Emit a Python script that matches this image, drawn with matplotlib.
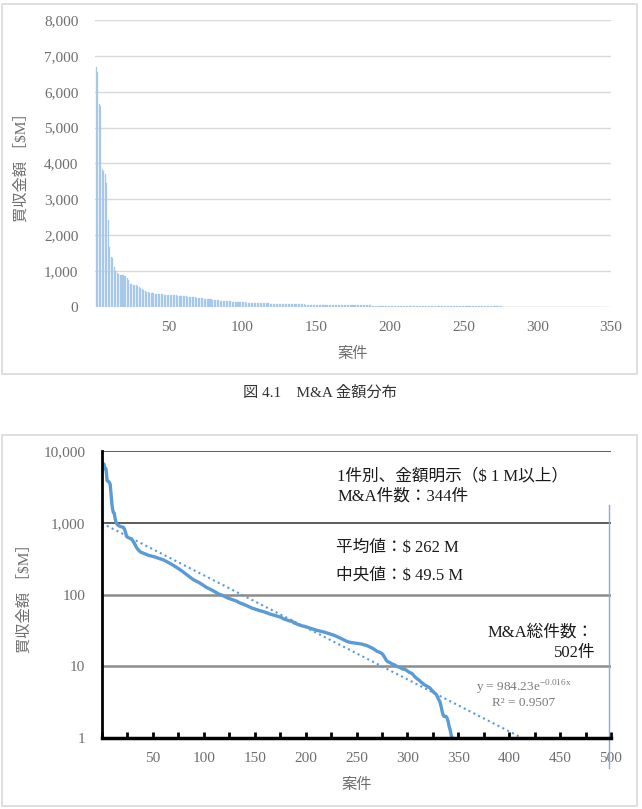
"""
M&A amount distribution: bar chart of deal values (top) and the same
sorted values on a log scale with an exponential trend line (bottom).
Saves out.png (642x809 px).
"""
import numpy as np
import matplotlib
matplotlib.use("Agg")
import matplotlib.pyplot as plt
from matplotlib.patches import Rectangle
from matplotlib.ticker import FuncFormatter, MultipleLocator

plt.rcParams["font.family"] = ["Liberation Serif", "Noto Sans CJK JP"]
plt.rcParams["mathtext.fontset"] = "custom"
plt.rcParams["mathtext.rm"] = "Liberation Serif"

# --- Data: deal values [$M], sorted descending (344 deals >= $1M) ---
deal_values = [
    6700, 6550, 5650, 5600, 3850, 3780, 3700, 3450, 2420, 1680,
    1400, 1360, 1120, 1000, 940, 920, 900, 890, 880, 870,
    860, 820, 750, 650, 630, 620, 610, 600, 590, 570,
    540, 510, 480, 450, 430, 415, 400, 390, 385, 380,
    375, 370, 365, 360, 355, 350, 348, 345, 342, 340,
    335, 332, 330, 325, 322, 318, 315, 312, 310, 305,
    300, 295, 290, 285, 280, 275, 270, 265, 260, 255,
    250, 245, 240, 235, 230, 225, 220, 215, 210, 205,
    200, 195, 190, 185, 180, 176, 172, 168, 164, 160,
    158, 155, 152, 150, 148, 145, 142, 139, 136, 133,
    130, 127, 125, 123, 121, 119, 117, 115, 113, 111,
    109, 107, 105, 103, 101, 100, 99, 98, 96, 95,
    93, 92, 90, 89, 88, 87, 86, 85, 84, 83,
    82, 81, 80, 78, 77, 76, 75, 74, 73, 72,
    71, 70, 69, 68, 67, 66, 65, 64, 63.5, 63,
    62, 61.5, 61, 60, 59.5, 59, 58.5, 58, 57.5, 57,
    56, 55.5, 55, 54, 53.5, 53, 52.5, 52, 51.5, 51,
    50.5, 50, 49.5, 49, 48.5, 48, 47, 46, 45.5, 45,
    44.5, 44, 43.5, 43, 42.8, 42.5, 42, 41, 40, 39.5,
    39, 38.5, 38, 37.5, 37, 36.7, 36.4, 36.2, 36, 35.6,
    35.2, 34.8, 34.4, 34, 33.6, 33.2, 32.9, 32.6, 32.3, 32,
    31.7, 31.4, 31.1, 30.9, 30.7, 30.5, 30.3, 30, 29.7, 29.4,
    29.1, 28.8, 28.5, 28.2, 27.9, 27.6, 27.3, 27, 26.7, 26.3,
    25.9, 25.5, 25.1, 24.7, 24.3, 23.9, 23.5, 23.1, 22.7, 22.4,
    22.1, 21.9, 21.7, 21.5, 21.4, 21.3, 21.2, 21.1, 21, 20.9,
    20.8, 20.7, 20.6, 20.5, 20.4, 20.2, 20, 19.8, 19.6, 19.5,
    19.2, 18.9, 18.6, 18.3, 18, 17.7, 17.4, 17, 16.6, 16.2,
    16, 15.8, 15.6, 15.3, 15, 14.5, 13.8, 13, 12.3, 11.8,
    11.5, 11.4, 11.2, 11, 10.8, 10.6, 10.5, 10.3, 10.1, 9.9,
    9.8, 9.7, 9.6, 9.4, 9.2, 9.1, 9.1, 9.0, 8.8, 8.6,
    8.4, 8.2, 8.1, 8.0, 7.8, 7.5, 7.2, 7.0, 6.8, 6.6,
    6.5, 6.3, 6.1, 5.9, 5.8, 5.6, 5.5, 5.4, 5.3, 5.2,
    5.1, 5.0, 4.8, 4.6, 4.5, 4.3, 4.2, 4.1, 3.9, 3.6,
    3.4, 3.2, 2.8, 2.4, 2.1, 2.0, 2.0, 2.0, 1.9, 1.7,
    1.45, 1.3, 1.1, 1.0,
]
deal_index = np.arange(1, len(deal_values) + 1)

# trend line (y = a * exp(b x))
trend_a = 984.23
trend_b = -0.0167
total_deals = 502

top_yticks = [0, 1000, 2000, 3000, 4000, 5000, 6000, 7000, 8000]
top_xticks = [50, 100, 150, 200, 250, 300, 350]
bottom_yticks = [1, 10, 100, 1000, 10000]
bottom_xticks = [50, 100, 150, 200, 250, 300, 350, 400, 450, 500]

caption = "図 4.1\u3000M&A 金額分布"
ylabel = "買収金額 ［$M］"
xlabel = "案件"

TICK_GRAY = "#6e6e6e"
LINE_BLUE = "#5B9BD5"
comma_fmt = FuncFormatter(lambda v, _: f"{v:,.0f}")

W, H = 642, 809
fig = plt.figure(figsize=(W / 100, H / 100), dpi=100)


def px_box(x0, y0, x1, y1):
    """figure-fraction rect [l, b, w, h] from pixel corners (top-left origin)."""
    return [x0 / W, 1 - y1 / H, (x1 - x0) / W, (y1 - y0) / H]


# --- outer frames ---
for (x0, y0, x1, y1) in [(2, 4, 637, 374), (2, 435, 637, 806)]:
    l, b, w, h = px_box(x0, y0, x1, y1)
    fig.patches.append(Rectangle((l, b), w, h, transform=fig.transFigure,
                                 fill=False, edgecolor="#d9d9d9", linewidth=1.2))

# --- Top: bar chart ---
ax1 = fig.add_axes(px_box(95, 20, 611, 307))
ax1.bar(deal_index, deal_values, width=0.7, color="#a7c8ea", edgecolor="#a7c8ea",
        linewidth=0.2, zorder=3)
ax1.set_xlim(0, 350)
ax1.set_ylim(0, 8000)
ax1.set_yticks(top_yticks)
ax1.set_xticks(top_xticks)
ax1.yaxis.set_major_formatter(comma_fmt)
ax1.grid(axis="y", color="#d9d9d9", linewidth=1, zorder=0)
for s in ax1.spines.values():
    s.set_visible(False)
ax1.tick_params(length=0, labelsize=11, labelcolor=TICK_GRAY)
ax1.tick_params(axis="x", pad=10)
ax1.tick_params(axis="y", pad=12)
ax1.set_ylabel(ylabel, fontsize=11, color=TICK_GRAY)
ax1.yaxis.set_label_coords(-0.128, 0.5)
ax1.set_xlabel(xlabel, fontsize=11, color=TICK_GRAY)
ax1.xaxis.set_label_coords(0.5, -0.139)

fig.text(320 / W, 1 - 393 / H, caption, ha="center", va="center",
         fontsize=11, color="#333333")

# --- Bottom: log-scale line with trend ---
ax2 = fig.add_axes(px_box(102, 451, 611, 738))
ax2.plot(deal_index, deal_values, color=LINE_BLUE, linewidth=2.4,
         solid_joinstyle="round", zorder=4)
trend_x = np.linspace(0, 500, 200)
ax2.plot(trend_x, trend_a * np.exp(trend_b * trend_x), color=LINE_BLUE,
         linewidth=1.5, linestyle=(0, (1, 1.6)), zorder=3)
ax2.set_yscale("log")
ax2.set_ylim(1, 10000)
ax2.set_xlim(0, 500)
ax2.set_yticks(bottom_yticks)
ax2.yaxis.set_major_formatter(comma_fmt)
ax2.yaxis.set_minor_locator(plt.NullLocator())
ax2.set_xticks(bottom_xticks)
ax2.xaxis.set_minor_locator(MultipleLocator(25))
ax2.tick_params(axis="y", length=0, labelsize=11, labelcolor=TICK_GRAY, pad=12)
ax2.tick_params(axis="x", which="both", direction="in", length=4, width=2,
                color="black", labelsize=11, labelcolor=TICK_GRAY, pad=10)

for yv, col, lw in [(10000, "#404040", 1.2), (1000, "#404040", 1.2),
                    (100, "#8c8c8c", 1.8), (10, "#8c8c8c", 1.8)]:
    ax2.axhline(yv, color=col, linewidth=lw, zorder=1)
for side in ("top", "right"):
    ax2.spines[side].set_visible(False)
ax2.spines["left"].set_linewidth(2)
ax2.spines["bottom"].set_linewidth(2.5)
ax2.spines["left"].set_zorder(5)
ax2.spines["bottom"].set_zorder(5)

# thin marker line near the right edge
ax2.axvline(498, ymin=-0.105, ymax=0.812, color="#8eaadb", linewidth=1,
            clip_on=False, zorder=2)

ax2.set_ylabel(ylabel, fontsize=11, color=TICK_GRAY)
ax2.yaxis.set_label_coords(-0.139, 0.5)
ax2.set_xlabel(xlabel, fontsize=11, color=TICK_GRAY)
ax2.xaxis.set_label_coords(0.5, -0.139)

note_kw = dict(transform=ax2.transAxes, fontsize=12, color="#1a1a1a", va="center")
ax2.text(0.462, 0.913, "1件別、金額明示（$ 1 M以上）", **note_kw)
ax2.text(0.462, 0.840, f"M&A件数：{len(deal_values)}件", **note_kw)
ax2.text(0.460, 0.662, "平均値：$ 262 M", **note_kw)
ax2.text(0.460, 0.564, "中央値：$ 49.5 M", **note_kw)
ax2.text(0.758, 0.369, "M&A総件数：", **note_kw)
ax2.text(0.969, 0.296, f"{total_deals}件", ha="right", **note_kw)

ax2.text(0.829, 0.174, r"y = 984.23e$^{\mathrm{-0.016x}}$", transform=ax2.transAxes,
         ha="center", va="center", fontsize=9.5, color="#7a7a7a")
ax2.text(0.829, 0.122, "R² = 0.9507", transform=ax2.transAxes,
         ha="center", va="center", fontsize=9.5, color="#7a7a7a")

fig.savefig("out.png", dpi=100)
